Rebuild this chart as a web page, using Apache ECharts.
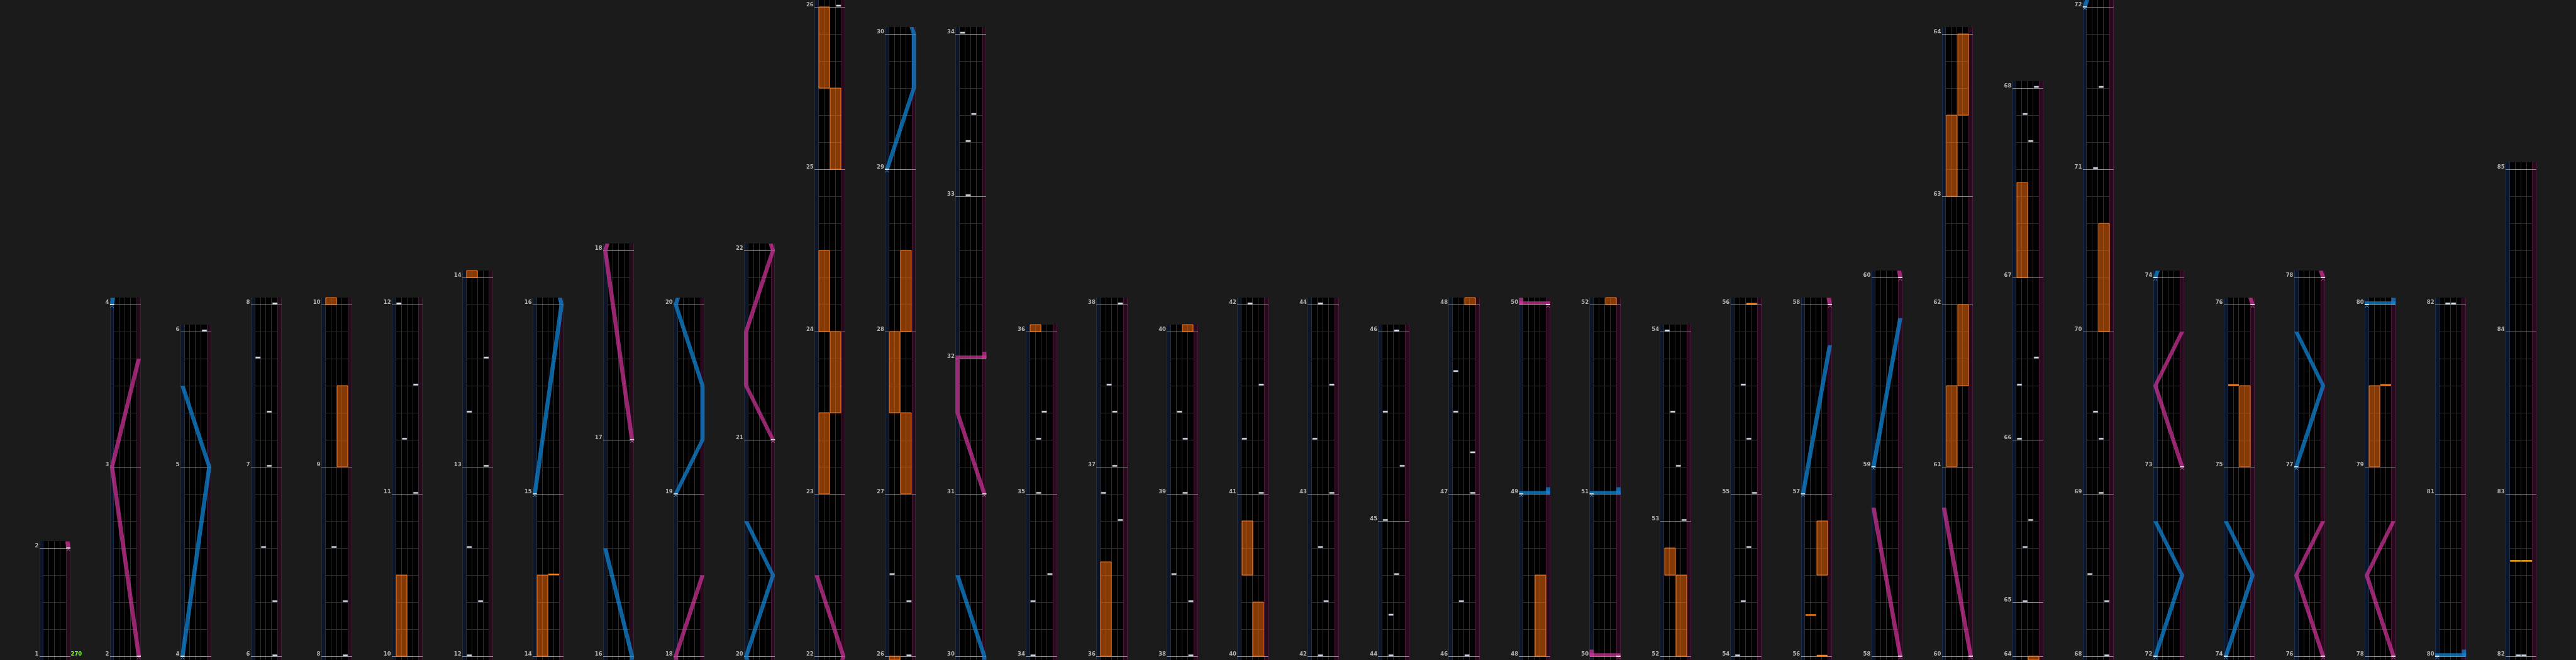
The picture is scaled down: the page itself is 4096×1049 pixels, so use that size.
<!DOCTYPE html>
<html>
<head>
<meta charset="utf-8">
<script src="https://cdn.jsdelivr.net/npm/echarts@6.0.0/dist/echarts.min.js"></script>
<style>
html,body{margin:0;padding:0;background:#1b1b1b;overflow:hidden;}
#chart{width:4096px;height:1049px;}
</style>
</head>
<body>
<div id="chart"></div>
<script>
// ================= DATA =================
// beats per measure, measures 1..84
const measureBeats = [
  4,7,6,7,5,7,6,7,6,6,
  7,7,7,6,7,8,7,6,7,8,
  7,6,6,6,6,6,6,6,5,6,
  5,6,6,6,6,7,6,6,6,6,
  7,6,7,5,7,6,7,6,7,6,
  7,5,7,6,7,6,7,7,7,7,
  6,4,6,2,6,6,7,6,6,6,
  6,7,7,7,6,7,7,7,6,6,
  7,6,6,6
];
// each column: [first measure line, last measure line]
const columnMeasures = [
  [1,2],[2,4],[4,6],[6,8],[8,10],[10,12],[12,14],[14,16],[16,18],[18,20],
  [20,22],[22,26],[26,30],[30,34],[34,36],[36,38],[38,40],[40,42],[42,44],[44,46],
  [46,48],[48,50],[50,52],[52,54],[54,56],[56,58],[58,60],[60,64],[64,68],[68,72],
  [72,74],[74,76],[76,78],[78,80],[80,82],[82,85]
];
// BT chips: [measure, beat, lane 1..4]
const btChips = [
  [6,0,4],[6,2,4],[6,4,2],[7,0,3],[7,2,3],[7,4,1],[8,0,4],[8,2,4],[8,4,2],
  [11,0,4],[11,2,2],[11,4,4],[12,0,1],[12,2,3],[12,4,1],[13,0,4],[13,2,1],[13,4,4],
  [26,0,4],[26,2,4],[26,3,1],
  [33,0,2],[33,2,2],[33,3,3],[34,0,1],[34,2,1],[34,3,4],[35,0,2],[35,2,2],[35,3,3],
  [36,5,4],[36,6,1],[37,0,3],[37,2,3],[37,3,2],[38,0,4],[38,2,4],[38,3,1],[39,0,3],[39,2,3],[39,3,2],
  [41,0,4],[41,2,1],[41,4,4],[42,0,2],[42,2,3],[42,4,2],[43,0,4],[43,2,1],[43,4,4],
  [44,0,2],[44,1.5,2],[44,3,3],[45,0,1],[45,2,4],[45,4,1],[46,0,3],[46,2,2],
  [47,0,4],[47,1.5,4],[47,3,1],[47,4.5,1],
  [53,0,4],[53,2,3],[53,4,2],[54,0,1],[54,2,2],[54,4,3],[55,0,4],[55,2,3],[55,4,2],
  [65,0,2],[65,2,2],[65,3,3],[66,0,1],[66,2,1],[66,3,4],[67,5,3],[67,6,2],
  [68,0,4],[68,2,4],[68,3,1],[69,0,3],[69,2,3],[69,3,2],[71,0,2],[71,3,3],
  [82,0,2],[82,0,3]
];
// FX holds: [measure, beat, length in beats, side]
const fxHolds = [
  [9,0,3,'R'],[10,0,3,'L'],[14,0,3,'L'],
  [23,0,3,'L'],[23,3,3,'R'],[24,0,3,'L'],[25,0,3,'R'],[25,3,3,'L'],
  [27,0,3,'R'],[27,3,3,'L'],[28,0,3,'R'],
  [36,0,3.5,'L'],[40,0,2,'R'],[40,3,2,'L'],[48,0,3,'R'],[52,0,3,'R'],[52,3,1,'L'],
  [56,3,2,'R'],[61,0,3,'L'],[61,3,3,'R'],[63,0,3,'L'],[63,3,3,'R'],[67,0,3.5,'L'],[70,0,4,'R'],
  [75,0,3,'R'],[79,0,3,'L']
];
// FX chips: [measure, beat, side]
const fxChips = [[14,3,'R'],[56,0,'R'],[56,1.5,'L'],[75,3,'L'],[79,3,'R']];
const fxChipsAlt = [[82,3.5,'L'],[82,3.5,'R']];
// lasers: list of [measure, beat, position 0..1]
const blueLasers = [
  [[4,0,0],[5,0,1],[5,3,0]],
  [[15,0,0],[16,0,1],[16,4,0]],
  [[19,0,0],[19,2,1],[19,4,1],[20,0,0],[20,3,1],[20,5,0]],
  [[29,0,0],[29,3,1],[30,0,1],[30,3,0]],
  [[49,0,0],[49,0,1],[49,0.25,1]],
  [[51,0,0],[51,0,1],[51,0.25,1]],
  [[57,0,0],[57,5.5,1]],
  [[59,0,0],[59,5.5,1]],
  [[72,0,0],[72,3,1],[72,5,0]],
  [[74,0,0],[74,3,1],[74,5,0]],
  [[77,0,0],[77,3,1],[77,5,0]],
  [[80,0,0],[80,0,1],[80,0.25,1]]
];
const pinkLasers = [
  [[2,0,1],[3,0,0],[3,4,1]],
  [[17,0,1],[18,0,0],[18,3,1]],
  [[21,0,1],[21,2,0],[21,4,0],[22,0,1],[22,3,0]],
  [[31,0,1],[31,3,0],[32,0,0],[32,0,1],[32,0.25,1]],
  [[50,0,1],[50,0,0],[50,0.25,0]],
  [[58,0,1],[58,5.5,0]],
  [[60,0,1],[60,5.5,0]],
  [[73,0,1],[73,3,0],[73,5,1]],
  [[76,0,1],[76,3,0],[76,5,1]],
  [[78,0,1],[78,3,0],[78,5,1]]
];
const bpmMarks = [[1,0,'270']];

// ================= LAYOUT =================
const REF_W = 4570, REF_H = 1170, S = 4096 / REF_W;
const mStart = [];
mStart[1] = 0;
for (let m = 1; m <= measureBeats.length; m++) mStart[m + 1] = mStart[m] + measureBeats[m - 1];
const T = (m, b) => mStart[m] + b;

const cols = columnMeasures.map(([s, e], i) => {
  const t0 = T(s, 0), t1 = T(e, 0);
  return { i, s, e, t0, t1, lo: t0 - 0.125, hi: t1 + 0.25, xb: i * 12.5 };
});

const FONT = 'bold ' + (9.5 * S).toFixed(2) + 'px "DejaVu Sans"';

function R(api, x0, y0, x1, y1, crisp) {
  const a = api.coord([x0, y0]), b = api.coord([x1, y1]);
  let x = Math.min(a[0], b[0]), y = Math.min(a[1], b[1]);
  let x2 = Math.max(a[0], b[0]), y2 = Math.max(a[1], b[1]);
  if (crisp) { x = Math.round(x); y = Math.round(y); x2 = Math.round(x2); y2 = Math.round(y2); }
  return { x, y, width: x2 - x, height: y2 - y };
}
function hline(api, x0, x1, y, stroke, lw) {
  const a = api.coord([x0, y]), b = api.coord([x1, y]);
  const yy = Math.round(a[1]) + 0.5;
  return { type: 'line', shape: { x1: Math.round(a[0]), y1: yy, x2: Math.round(b[0]), y2: yy }, style: { stroke, lineWidth: lw || 1 } };
}
function vline(api, x, y0, y1, stroke) {
  const a = api.coord([x, y0]), b = api.coord([x, y1]);
  const xx = Math.round(a[0]) - 0.5;
  return { type: 'line', shape: { x1: xx, y1: a[1], x2: xx, y2: b[1] }, style: { stroke, lineWidth: 1 } };
}

function frameItem(params, api) {
  const c = cols[params.dataIndex];
  const lo = c.lo - c.t0, hi = c.hi - c.t0, xb = c.xb;
  const kids = [];
  kids.push({ type: 'rect', shape: R(api, xb, lo, xb + 5.5, hi, true), style: { fill: '#000000' } });
  kids.push({ type: 'rect', shape: R(api, xb, lo, xb + 0.75, hi, true), style: { fill: '#0d1629' } });
  kids.push({ type: 'rect', shape: R(api, xb + 4.75, lo, xb + 5.5, hi, true), style: { fill: '#260b1d' } });
  // beat grid
  for (let m = c.s; m < c.e; m++) {
    for (let b = 1; b < measureBeats[m - 1]; b++) {
      kids.push(hline(api, xb + 0.75, xb + 4.75, T(m, b) - c.t0, '#303030'));
    }
  }
  // lane dividers and strip edges
  [1.75, 2.75, 3.75].forEach(x => kids.push(vline(api, xb + x, lo, hi, '#303030')));
  kids.push(vline(api, xb + 0.1, lo, hi, '#1c2f4a'));
  kids.push(vline(api, xb + 0.75, lo, hi, '#1c2f4a'));
  kids.push(vline(api, xb + 4.85, lo, hi, '#4a1838'));
  kids.push(vline(api, xb + 5.5, lo, hi, '#4a1838'));
  // measure lines + labels
  for (let m = c.s; m <= c.e; m++) {
    const y = T(m, 0) - c.t0;
    kids.push(hline(api, xb, xb + 5.5, y, '#8c8c8c'));
    const p = api.coord([xb - 0.15, y]);
    kids.push({ type: 'text', style: { text: String(m), x: p[0], y: p[1] + 1.5 * S, fill: '#b2b2b2', font: FONT, align: 'right', verticalAlign: 'bottom' } });
  }
  // bpm labels
  bpmMarks.forEach(([m, b, txt]) => {
    const t = T(m, b);
    if (t >= c.t0 && t <= c.t1 && (t < c.t1 || c.i === cols.length - 1)) {
      const p = api.coord([xb + 5.55, t - c.t0]);
      kids.push({ type: 'text', style: { text: txt, x: p[0], y: p[1] + 1.5 * S, fill: '#74ff1e', font: FONT, align: 'left', verticalAlign: 'bottom' } });
    }
  });
  return { type: 'group', children: kids };
}

function fxHoldItem(params, api) {
  const [m, b, len, side] = fxHolds[params.dataIndex];
  const ta = T(m, b), tb = ta + len;
  const x0 = side === 'L' ? 0.8 : 2.8, x1 = side === 'L' ? 2.7 : 4.7;
  const kids = [];
  cols.forEach(c => {
    if (tb > c.lo && ta < c.hi) {
      const a = Math.max(ta, c.lo) - c.t0, bb = Math.min(tb, c.hi) - c.t0;
      kids.push({ type: 'rect', shape: R(api, c.xb + x0, a, c.xb + x1, bb, true),
        style: { fill: 'rgba(255,112,12,0.52)', stroke: '#ff7a1c', lineWidth: 1 } });
    }
  });
  return { type: 'group', children: kids };
}

function btItem(params, api) {
  const [m, b, lane] = btChips[params.dataIndex];
  const t = T(m, b);
  const x0 = 0.75 + (lane - 1) + 0.1, x1 = x0 + 0.83;
  const kids = [];
  cols.forEach(c => {
    if (t >= c.lo && t <= c.hi) {
      const y0 = t - c.t0 + 0.6 / 48, y1 = t - c.t0 + 3.2 / 48;
      kids.push({ type: 'rect', shape: R(api, c.xb + x0, y0, c.xb + x1, y1), style: { fill: '#e4eaf1', stroke: '#8d99a8', lineWidth: 0.6 } });
    }
  });
  return { type: 'group', children: kids };
}

function fxChipItemFactory(list, color) {
  return function (params, api) {
    const [m, b, side] = list[params.dataIndex];
    const t = T(m, b);
    const x0 = side === 'L' ? 0.8 : 2.8, x1 = side === 'L' ? 2.7 : 4.7;
    const kids = [];
    cols.forEach(c => {
      if (t >= c.lo && t <= c.hi) {
        kids.push({ type: 'rect', shape: R(api, c.xb + x0, t - c.t0, c.xb + x1, t - c.t0 + 2.8 / 48), style: { fill: color } });
      }
    });
    return { type: 'group', children: kids };
  };
}

function clipChain(ch, lo, hi) {
  const out = [];
  for (let k = 0; k < ch.length - 1; k++) {
    const [ta, pa] = ch[k], [tb, pb] = ch[k + 1];
    const a = Math.max(ta, lo), b = Math.min(tb, hi);
    if (a >= b) continue;
    const pA = pa + (pb - pa) * (a - ta) / (tb - ta);
    const pB = pa + (pb - pa) * (b - ta) / (tb - ta);
    if (!out.length || out[out.length - 1][0] !== a) out.push([a, pA]);
    out.push([b, pB]);
  }
  return out;
}

function laserItemFactory(list, fill, caretColor) {
  return function (params, api) {
    const pts = list[params.dataIndex].map(([m, b, p]) => [T(m, b), p]);
    const pieces = [], slams = [];
    let cur = [pts[0]];
    for (let k = 1; k < pts.length; k++) {
      if (pts[k][0] === pts[k - 1][0]) {
        slams.push([pts[k][0], pts[k - 1][1], pts[k][1]]);
        if (cur.length > 1) pieces.push(cur);
        cur = [pts[k]];
      } else cur.push(pts[k]);
    }
    if (cur.length > 1) pieces.push(cur);
    const kids = [];
    cols.forEach(c => {
      pieces.forEach(pc => {
        const cl = clipChain(pc, c.lo, c.hi);
        if (cl.length < 2) return;
        const left = cl.map(([t, p]) => api.coord([c.xb + p * 4.75, t - c.t0]));
        const right = cl.map(([t, p]) => api.coord([c.xb + p * 4.75 + 0.75, t - c.t0])).reverse();
        kids.push({ type: 'polygon', shape: { points: left.concat(right) }, style: { fill } });
      });
      slams.forEach(([t, pa, pb]) => {
        if (t < c.lo || t > c.hi) return;
        const top = Math.min(t + 5.5 / 48, c.hi);
        kids.push({ type: 'rect', shape: R(api, c.xb + Math.min(pa, pb) * 4.75, t - c.t0, c.xb + Math.max(pa, pb) * 4.75 + 0.75, top - c.t0), style: { fill } });
      });
      const [ts, ps] = pts[0];
      if (ts >= c.lo && ts <= c.hi) {
        const a = api.coord([c.xb + ps * 4.75, ts - c.t0]), b = api.coord([c.xb + ps * 4.75 + 0.75, ts - c.t0]);
        const y = Math.round(a[1]) + 0.5, xc = (a[0] + b[0]) / 2;
        kids.push({ type: 'line', shape: { x1: a[0], y1: y - 0.5, x2: b[0], y2: y - 0.5 }, style: { stroke: '#ffffff', lineWidth: 1.5 } });
        kids.push({ type: 'polyline', shape: { points: [[xc - 3 * S, y + 5 * S], [xc, y + 1.5 * S], [xc + 3 * S, y + 5 * S]] }, style: { stroke: caretColor, lineWidth: 1, fill: null } });
      }
    });
    return { type: 'group', children: kids };
  };
}

const base = { type: 'custom', coordinateSystem: 'cartesian2d', silent: true, animation: false, clip: false };

const option = {
  backgroundColor: '#1b1b1b',
  animation: false,
  grid: { left: 0, top: 0, width: REF_W * S, height: REF_H * S, containLabel: false },
  xAxis: { type: 'value', min: -7, max: 450, show: false },
  yAxis: { type: 'value', min: -0.125, max: 24.25, show: false },
  series: [
    Object.assign({}, base, { name: 'frame', z: 1, renderItem: frameItem, data: cols.map(c => [c.xb, 0]) }),
    Object.assign({}, base, { name: 'fxHold', z: 2, renderItem: fxHoldItem, data: fxHolds.map(h => [h[0], h[1]]) }),
    Object.assign({}, base, { name: 'bt', z: 3, renderItem: btItem, data: btChips.map(h => [h[0], h[1]]) }),
    Object.assign({}, base, { name: 'fxChip', z: 3, renderItem: fxChipItemFactory(fxChips, '#ff7a12'), data: fxChips.map(h => [h[0], h[1]]) }),
    Object.assign({}, base, { name: 'fxChipAlt', z: 3, renderItem: fxChipItemFactory(fxChipsAlt, '#ffac00'), data: fxChipsAlt.map(h => [h[0], h[1]]) }),
    Object.assign({}, base, { name: 'blue', z: 4, renderItem: laserItemFactory(blueLasers, 'rgba(16,132,212,0.74)', '#3596d8'), data: blueLasers.map((l, i) => [i, 0]) }),
    Object.assign({}, base, { name: 'pink', z: 4, renderItem: laserItemFactory(pinkLasers, 'rgba(206,52,152,0.72)', '#c8479a'), data: pinkLasers.map((l, i) => [i, 0]) })
  ]
};

const chart = echarts.init(document.getElementById('chart'), null, { renderer: 'canvas' });
chart.setOption(option);
</script>
</body>
</html>
